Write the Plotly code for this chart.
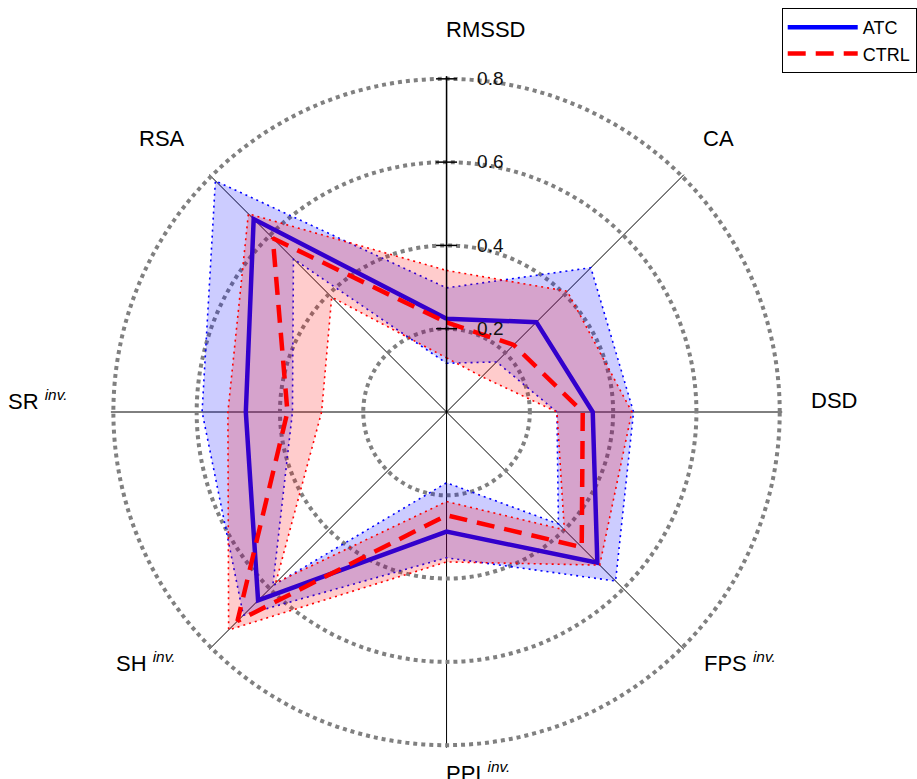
import plotly.graph_objects as go

# Radar axes (clockwise from the top)
categories = ["RMSSD", "CA", "DSD", "FPS inv.", "PPI inv.", "SH inv.", "SR inv.", "RSA"]
axis_labels = ["RMSSD", "CA", "DSD", "FPS <sup><i>inv.</i></sup>", "PPI <sup><i>inv.</i></sup>",
               "SH <sup><i>inv.</i></sup>", "SR <sup><i>inv.</i></sup>", "RSA"]

# ATC group: mean and band bounds
atc_mean = [0.224, 0.305, 0.351, 0.512, 0.287, 0.640, 0.482, 0.655]
atc_upper = [0.298, 0.490, 0.449, 0.574, 0.350, 0.690, 0.587, 0.785]
atc_lower = [0.117, 0.170, 0.265, 0.380, 0.170, 0.590, 0.370, 0.520]

# CTRL group: mean and band bounds
ctrl_mean = [0.215, 0.228, 0.327, 0.459, 0.248, 0.710, 0.382, 0.590]
ctrl_upper = [0.340, 0.410, 0.445, 0.520, 0.360, 0.740, 0.525, 0.673]
ctrl_lower = [0.130, 0.120, 0.265, 0.400, 0.215, 0.580, 0.300, 0.390]

radial_ticks = [0.2, 0.4, 0.6, 0.8]
# a hair beyond the last tick so its dotted circle is still drawn
r_max = 0.806

# one spoke per variable, evenly spaced
angles = [i * 360 / len(categories) for i in range(len(categories))]


def closed(values):
    return list(values) + [values[0]]


def ring(upper, lower):
    # outer polygon, then the inner polygon walked the opposite way -> hole
    r = closed(upper) + [lower[0]] + list(reversed(lower[1:])) + [lower[0]]
    th = closed(angles) + [angles[0]] + list(reversed(angles[1:])) + [angles[0]]
    return r, th


fig = go.Figure()


def add_group(name, mean, upper, lower, rgb, dash):
    r, th = ring(upper, lower)
    fig.add_trace(go.Scatterpolar(r=r, theta=th, mode="lines", fill="toself",
                                  fillcolor=f"rgba({rgb},0.2)", line=dict(width=0),
                                  hoverinfo="skip", showlegend=False))
    for bound in (upper, lower):
        fig.add_trace(go.Scatterpolar(r=closed(bound), theta=closed(angles), mode="lines",
                                      line=dict(color=f"rgb({rgb})", width=1.6, dash="2px,4px"),
                                      hoverinfo="skip", showlegend=False))
    fig.add_trace(go.Scatterpolar(r=closed(mean), theta=closed(angles), mode="lines",
                                  line=dict(color=f"rgb({rgb})", width=4.5, dash=dash),
                                  name=name, showlegend=True))


add_group("ATC", atc_mean, atc_upper, atc_lower, "0,0,255", "solid")
add_group("CTRL", ctrl_mean, ctrl_upper, ctrl_lower, "255,0,0", "18px,10px")

# small cross ticks on the vertical radial axis
fig.add_trace(go.Scatterpolar(r=radial_ticks, theta=[angles[0]] * len(radial_ticks),
                              mode="markers", cliponaxis=False, hoverinfo="skip", showlegend=False,
                              marker=dict(symbol="line-ew", size=15, color="black",
                                          line=dict(width=1.5, color="black"))))

W, H = 917, 779
cx, cy = 449, 412
R = 335 * r_max / 0.8

fig.update_layout(
    width=W, height=H,
    margin=dict(l=0, r=0, t=0, b=0),
    paper_bgcolor="white",
    font=dict(family="Liberation Sans, Arial, sans-serif", color="black"),
    polar=dict(
        domain=dict(x=[(cx - R) / W, (cx + R) / W], y=[1 - (cy + R) / H, 1 - (cy - R) / H]),
        bgcolor="white",
        radialaxis=dict(range=[0, r_max], tickvals=radial_ticks, ticktext=[str(t) for t in radial_ticks],
                        angle=90, tickangle=90, showline=True, linecolor="black", linewidth=1.5,
                        ticks="outside", ticklen=26, tickcolor="rgba(0,0,0,0)",
                        gridcolor="gray", gridwidth=4, griddash="dot",
                        tickfont=dict(size=19, color="#111")),
        angularaxis=dict(direction="clockwise", rotation=90, showline=False,
                         thetaunit="degrees", tickvals=angles,
                         showticklabels=False, ticks="",
                         gridcolor="black", gridwidth=1),
    ),
    legend=dict(x=786 / W, y=1 - 8 / H, xanchor="left", yanchor="top",
                bordercolor="black", borderwidth=1, bgcolor="white",
                font=dict(size=18), itemwidth=70, tracegroupgap=0),
)

# Axis names around the chart
label_pos = [(448, 30), (707, 138), (815, 400), (708, 662),
             (448, 772), (117, 662), (8, 400), (140, 138)]
for text, (x, y) in zip(axis_labels, label_pos):
    fig.add_annotation(text=text, x=(x - 2) / W, y=1 - y / H, xref="paper", yref="paper",
                       xanchor="left", yanchor="middle", showarrow=False,
                       font=dict(size=22, color="black"))

fig.write_html("out.html")
